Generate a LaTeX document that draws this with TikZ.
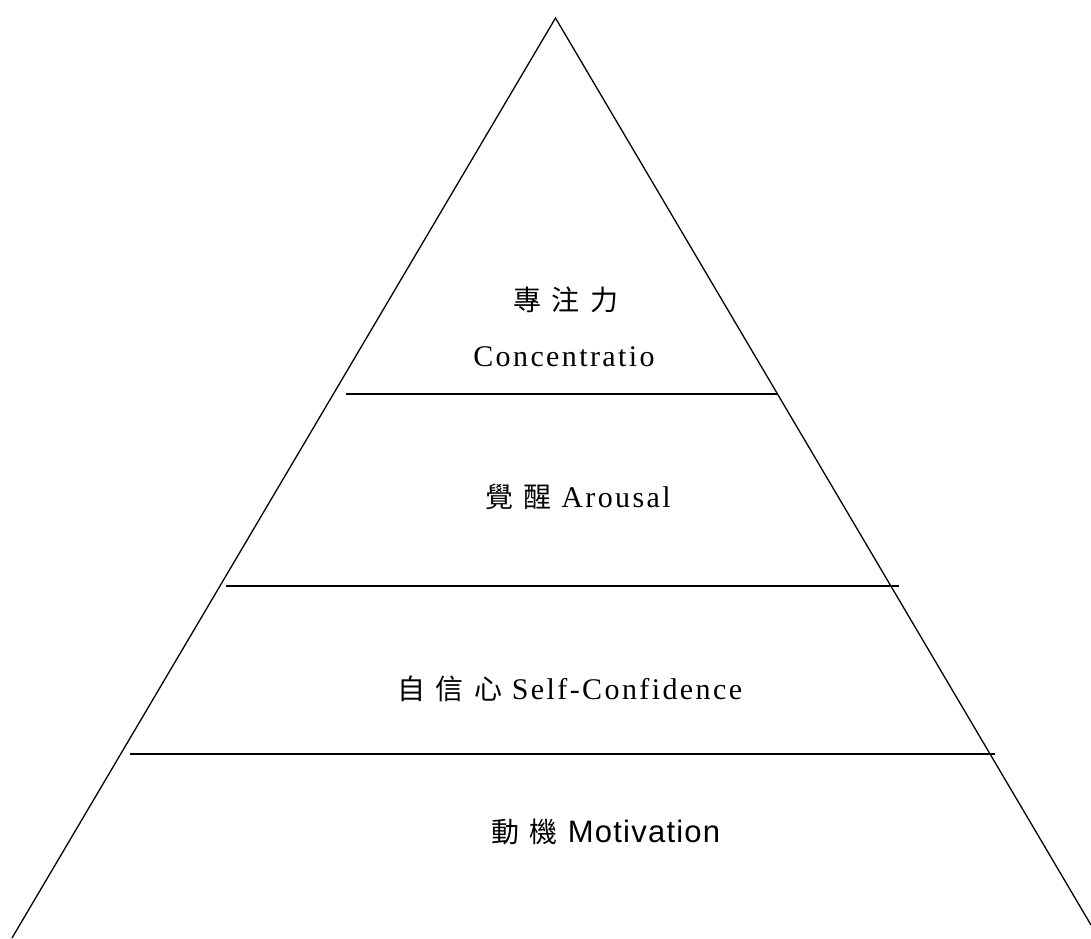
\documentclass[tikz,border=0pt]{standalone}
\usepackage{fontspec}
\setmainfont{Liberation Serif}[LetterSpace=8]
\newfontfamily\cjk{Noto Sans CJK TC}[LetterSpace=36]
\newfontfamily\arialfont{Liberation Sans}[LetterSpace=4]
\newcommand\zh[1]{{\fontsize{28}{34}\selectfont\cjk #1}}
\usetikzlibrary{positioning}

\begin{document}
\begin{tikzpicture}[
  x=1pt, y=-1pt,
  edge/.style={line width=1.3pt, black},
  tier/.style={font=\fontsize{30}{36}\selectfont, inner sep=0pt, anchor=base},
]
\useasboundingbox (0,0) rectangle (1091,938);

% Outline of the pyramid, running off the lower corners.
\coordinate (apex)  at (555.5,18);
\coordinate (baseL) at (12,938);
\coordinate (baseR) at (1091,925);
\draw[edge] (baseL) -- (apex) -- (baseR);

% Three dividers between the four tiers.
\coordinate (cutAL) at (346,394); \coordinate (cutAR) at (777,394);
\coordinate (cutBL) at (226,586); \coordinate (cutBR) at (899,586);
\coordinate (cutCL) at (130,754); \coordinate (cutCR) at (995,754);
\foreach \c in {A, B, C} {
  \draw[edge] (cut\c L) -- (cut\c R);
}

% Tier labels, top to bottom.
\node[tier] (focusZh) at (566,310) {\zh{專注力}};
\node[tier] (focusEn) at (564,366) {Concentratio};
\node[tier] (arousal) at (578,507) {\zh{覺醒} Arousal};
\node[tier] (confid)  at (570,699) {\zh{自信心} Self-Confidence};
\node[tier] (motive)  at (606,842) {\zh{動機} {\arialfont\fontsize{31}{36}\selectfont Motivation}};

\end{tikzpicture}
\end{document}
